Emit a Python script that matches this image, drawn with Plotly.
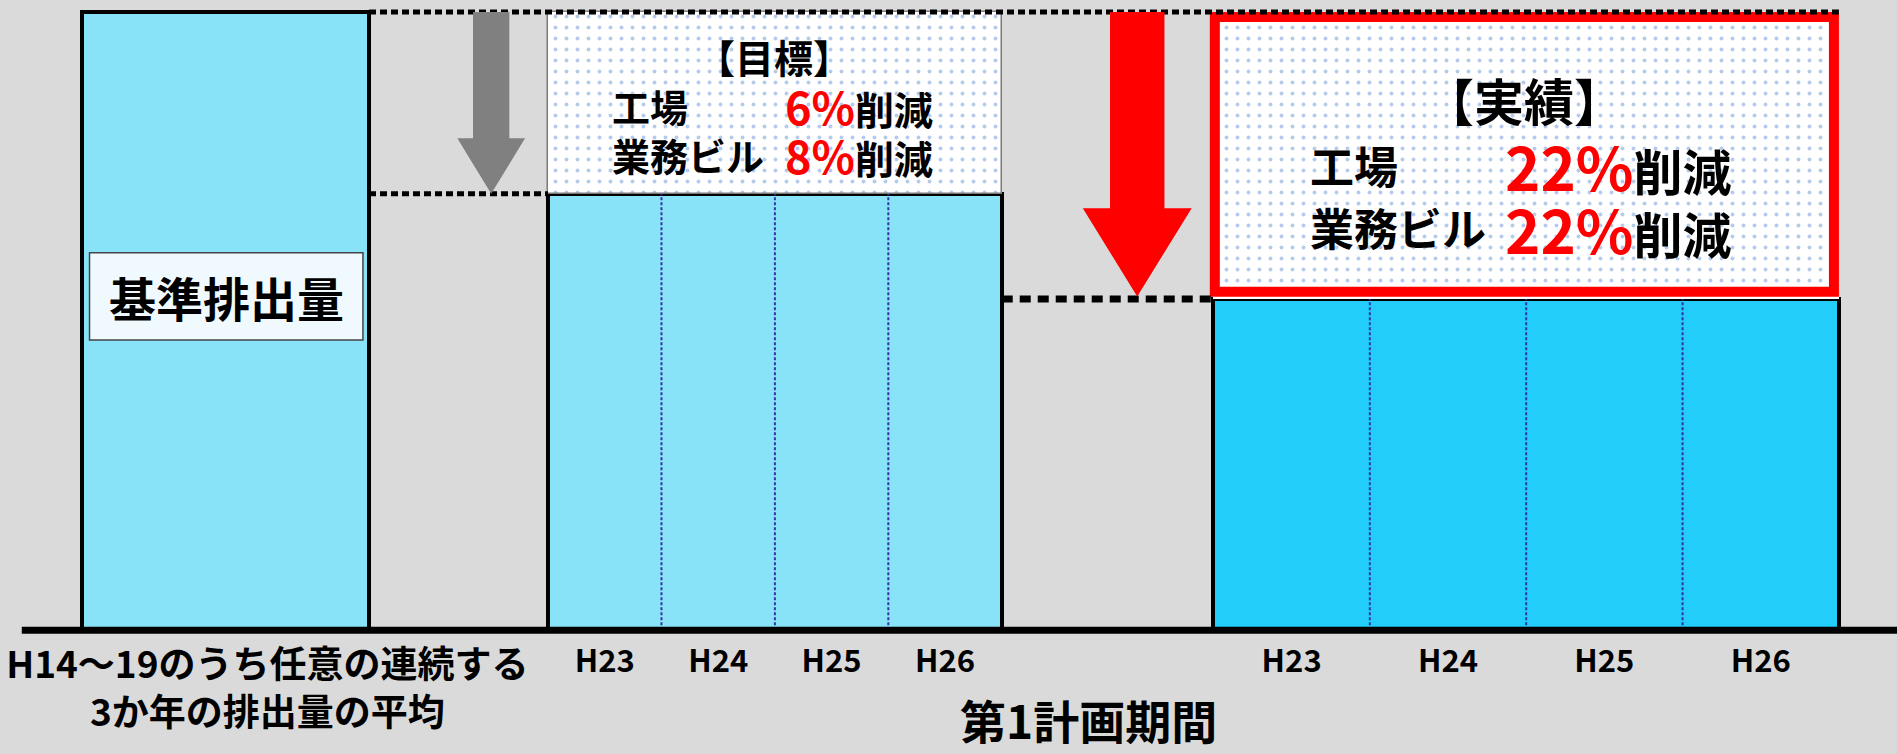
import plotly.graph_objects as go

# ---------------- data ----------------
base_category = "H14～19のうち任意の連続する<br>3か年の排出量の平均"
base_label = "基準排出量"
years = ["H23", "H24", "H25", "H26"]
base_value = [100.0]
target_values = [70.6, 70.6, 70.6, 70.6]
actual_values = [53.6, 53.6, 53.6, 53.6]
facilities = ["工場", "業務ビル"]
target_cut_pct = [6, 8]
actual_cut_pct = [22, 22]
period_title = "第1計画期間"
target_heading = "【目標】"
actual_heading = "【実績】"

# ---------------- layout constants ----------------
W, H = 1897, 754
XR = 1568.0                      # x-axis units across the figure width
P_TOP, P_AXIS, P_H = 10.0, 521.0, 623.2


def vy(p):
    """vertical layout position (reference px) -> value units"""
    return 100.0 * (P_AXIS - p) / (P_AXIS - P_TOP)


Y_RANGE = [vy(P_H), vy(0)]
AXIS_POS = (0 - Y_RANGE[0]) / (Y_RANGE[1] - Y_RANGE[0])

BASE_SPAN = (68, 305)
TGT_SPAN = (453, 828)
ACT_SPAN = (1003, 1520)
BASE_TICK_X = 221

FONT = "Noto Sans CJK JP"
BG = "#DADADA"
LIGHT_BLUE = "#89E3F8"
BRIGHT_BLUE = "#22CDF9"
SEP_BLUE = "#3434A8"
DOT_BLUE = "#6C98DA"
RED = "#FF0000"


def slots(span, n):
    w = (span[1] - span[0]) / n
    centers = [span[0] + w * (i + 0.5) for i in range(n)]
    inner = [span[0] + w * i for i in range(1, n)]
    return w, centers, inner


fig = go.Figure()

# base bar
bw = BASE_SPAN[1] - BASE_SPAN[0]
fig.add_trace(go.Bar(
    x=[(BASE_SPAN[0] + BASE_SPAN[1]) / 2], y=base_value, width=[bw],
    marker=dict(color=LIGHT_BLUE, line=dict(color="black", width=4)),
    xaxis="x", yaxis="y", showlegend=False, hoverinfo="skip"))

tick_vals2, tick_text2 = [], []
shapes = []

for span, vals, fill in [(TGT_SPAN, target_values, LIGHT_BLUE),
                         (ACT_SPAN, actual_values, BRIGHT_BLUE)]:
    sw, centers, inner = slots(span, len(years))
    gw = span[1] - span[0]
    gmid = (span[0] + span[1]) / 2
    top = max(vals)
    # yearly bars
    fig.add_trace(go.Bar(
        x=centers, y=vals, width=[sw] * len(vals),
        marker=dict(color=fill, line=dict(width=0)),
        xaxis="x2", yaxis="y", showlegend=False, hoverinfo="skip"))
    # group outline
    fig.add_trace(go.Bar(
        x=[gmid], y=[top], width=[gw],
        marker=dict(color="rgba(0,0,0,0)", line=dict(color="black", width=4)),
        xaxis="x2", yaxis="y", showlegend=False, hoverinfo="skip"))
    # reduction box (dotted pattern)
    is_target = span == TGT_SPAN
    fig.add_trace(go.Bar(
        x=[gmid], y=[base_value[0] - top], base=[top], width=[gw],
        marker=dict(color="white",
                    line=dict(color="#7A7A7A", width=1.5 if is_target else 0),
                    pattern=dict(shape=".", fgcolor=DOT_BLUE, bgcolor="white",
                                 size=11, solidity=0.1, fillmode="overlay")),
        xaxis="x2", yaxis="y", showlegend=False, hoverinfo="skip"))
    # dotted separators between years
    for i, xe in enumerate(inner):
        shapes.append(dict(type="line", xref="x", yref="y", x0=xe, x1=xe,
                           y0=0, y1=min(vals[i], vals[i + 1]),
                           line=dict(color=SEP_BLUE, width=2, dash="3px,2px"),
                           layer="above"))
    tick_vals2 += centers
    tick_text2 += years

tgt = max(target_values)
act = max(actual_values)
u = (P_AXIS - P_TOP) / 100.0  # ref px per value unit

# red frame around actual box
lw_r = 10 * (XR / W)  # in x units
shapes.append(dict(type="rect", xref="x", yref="y",
                   x0=1000 + lw_r / 2, x1=1520 - lw_r / 2,
                   y0=act + 0.4 + (4 / u), y1=base_value[0] - (4 / u),
                   line=dict(color=RED, width=10), fillcolor="rgba(0,0,0,0)",
                   layer="above"))

# dotted guide lines
shapes.append(dict(type="line", xref="x", yref="y", x0=BASE_SPAN[1], x1=ACT_SPAN[1],
                   y0=base_value[0], y1=base_value[0],
                   line=dict(color="black", width=5, dash="7px,4px"), layer="above"))
shapes.append(dict(type="line", xref="x", yref="y", x0=BASE_SPAN[1], x1=TGT_SPAN[0],
                   y0=tgt, y1=tgt,
                   line=dict(color="black", width=5, dash="7px,4px"), layer="above"))
shapes.append(dict(type="line", xref="x", yref="y", x0=TGT_SPAN[1], x1=ACT_SPAN[0],
                   y0=act, y1=act,
                   line=dict(color="black", width=7, dash="11px,7px"), layer="above"))


def arrow(xc, shaft_w, head_w, y_top, y_tip, head_h, color):
    hs = y_tip + head_h
    p = (f"M {xc - shaft_w/2} {y_top} L {xc + shaft_w/2} {y_top} "
         f"L {xc + shaft_w/2} {hs} L {xc + head_w/2} {hs} L {xc} {y_tip} "
         f"L {xc - head_w/2} {hs} L {xc - shaft_w/2} {hs} Z")
    return dict(type="path", xref="x", yref="y", path=p, fillcolor=color,
                line=dict(width=0), layer="above")


shapes.append(arrow(406, 30, 56, base_value[0], tgt, 46 / u, "#808080"))
shapes.append(arrow(940, 45, 90, base_value[0], act + 0.4, 73 / u, RED))

# baseline (x axis line)
shapes.append(dict(type="line", xref="x", yref="y", x0=18, x1=XR, y0=0, y1=0,
                   line=dict(color="black", width=7), layer="above"))

# label box for base bar
shapes.append(dict(type="rect", xref="x", yref="y", x0=74, x1=300,
                   y0=vy(281), y1=vy(209), fillcolor="#F0FAFE",
                   line=dict(color="#444444", width=1.5), layer="above"))

ann = []


def add_text(x, y, text, size, xanchor="center", color="black"):
    ann.append(dict(x=x, y=y, xref="x", yref="y", text=text, showarrow=False,
                    xanchor=xanchor, yanchor="middle", borderpad=0,
                    font=dict(family=FONT, size=size, color=color, weight=700)))


add_text(187, vy(245), base_label, 47)

# target box text
add_text(640, vy(46), target_heading, 39)
for i, (fac, pct) in enumerate(zip(facilities, target_cut_pct)):
    yy = vy(87 + 41 * i)
    add_text(505, yy, fac, 38, xanchor="left")
    add_text(648, yy, f"<span style='color:{RED};font-size:45px'>{pct}%</span>削減", 39,
             xanchor="left")

# actual box text
add_text(1260, vy(82), actual_heading, 50)
for i, (fac, pct) in enumerate(zip(facilities, actual_cut_pct)):
    yy = vy(136 + 52 * i)
    add_text(1082, yy, fac, 44, xanchor="left")
    add_text(1243, yy, f"<span style='color:{RED};font-size:60px'>{pct}%</span>削減", 49,
             xanchor="left")

add_text(900, vy(594), period_title, 46)

axis_common = dict(range=[0, XR], showgrid=False, zeroline=False, showline=False,
                   ticks="", anchor="free", position=AXIS_POS, tickangle=0,
                   tickmode="array", ticklabelstandoff=10)

fig.update_layout(
    width=W, height=H,
    margin=dict(l=0, r=0, t=0, b=0),
    paper_bgcolor=BG, plot_bgcolor=BG,
    barmode="overlay", bargap=0,
    xaxis=dict(**axis_common, tickvals=[BASE_TICK_X], ticktext=[base_category],
               tickfont=dict(family=FONT, size=37, color="black", weight=700)),
    xaxis2=dict(**axis_common, overlaying="x", tickvals=tick_vals2, ticktext=tick_text2,
                tickfont=dict(family=FONT, size=31, color="black", weight=700)),
    yaxis=dict(range=Y_RANGE, visible=False, fixedrange=True),
    shapes=shapes, annotations=ann,
)

fig.write_html("out.html", config={"displayModeBar": False},
               post_script="document.body.style.margin='0';document.body.style.overflow='hidden';")
